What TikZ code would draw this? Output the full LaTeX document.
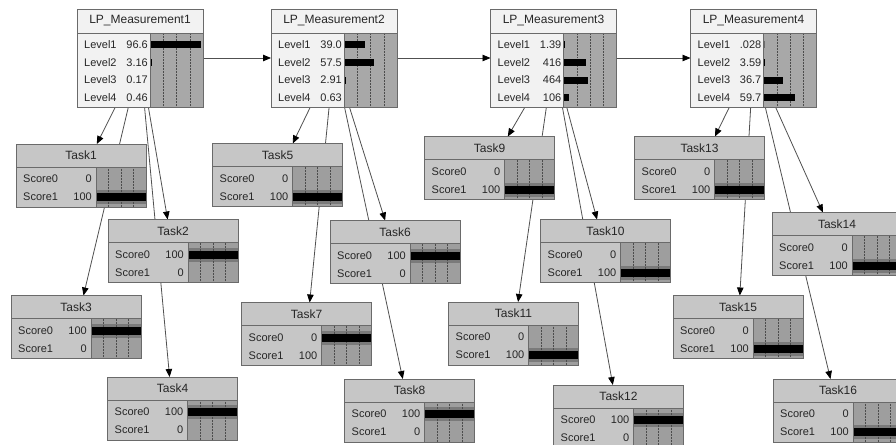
\documentclass[tikz,border=0pt]{standalone}
\usepackage{fontspec}
\setmainfont{Liberation Sans}
\usetikzlibrary{arrows.meta,backgrounds}
\definecolor{paleface}{HTML}{F2F2F2}
\definecolor{taskface}{HTML}{C6C6C6}
\definecolor{measchart}{HTML}{A8A8A8}
\definecolor{taskchart}{HTML}{9E9E9E}
\definecolor{barband}{HTML}{7A7A7A}
\definecolor{rim}{HTML}{6A6A6A}
\definecolor{wire}{HTML}{505050}

\newcommand{\measnode}[4]{%
  \node[measshape] (#1) at (#2) {};
  \begin{scope}[shift={(#1.north west)}]
    \fill[paleface] (0,0) rectangle (126,98);
    \fill[measchart] (73,24) rectangle (126,98);
    \foreach \q in {1,2,3}
      \draw[gridline] (73+13.25*\q,24) -- (73+13.25*\q,98);
    \foreach \v/\b [count=\k] in {#4} {
      \fill (73,15+17.5*\k) rectangle (73+0.53*\b,22+17.5*\k);
      \node[rowtext,anchor=west] at (7,18.5+17.5*\k) {Level\k};
      \node[rowtext,anchor=east] at (71,18.5+17.5*\k) {\v};
    }
    \draw[rim] (0,24) -- (126,24) (73,24) -- (73,98);
    \draw[rim] (0,0) rectangle (126,98);
    \node[titletext] at (63,12) {#3};
  \end{scope}}

\newcommand{\tasknode}[4]{%
  \node[taskshape] (#1) at (#2) {};
  \begin{scope}[shift={(#1.north west)}]
    \fill[taskface] (0,0) rectangle (130,63);
    \fill[taskchart] (80,23) rectangle (130,63);
    \foreach \v/\b [count=\k from 0] in {#4}
      \fill[barband] (80,28+18*\k) rectangle (80+0.5*\b,42+18*\k);
    \foreach \q in {1,2,3}
      \draw[gridline] (80+12.5*\q,23) -- (80+12.5*\q,63);
    \foreach \v/\b [count=\k from 0] in {#4} {
      \fill (80,31+18*\k) rectangle (80+0.5*\b,39+18*\k);
      \node[rowtext,anchor=west] at (7,35+18*\k) {Score\k};
      \node[rowtext,anchor=east] at (76,35+18*\k) {\v};
    }
    \draw[rim] (0,23) -- (130,23) (80,23) -- (80,63);
    \draw[rim] (0,0) rectangle (130,63);
    \node[titletext] at (65,11.5) {#3};
  \end{scope}}

\begin{document}
\begin{tikzpicture}[x=1pt, y=-1pt,
    measshape/.style={minimum width=126pt, minimum height=98pt, inner sep=0pt, outer sep=0pt},
    taskshape/.style={minimum width=130pt, minimum height=63pt, inner sep=0pt, outer sep=0pt},
    rowtext/.style={font=\fontsize{11}{13}\selectfont, inner sep=0pt, text=black!85},
    titletext/.style={font=\fontsize{12}{14}\selectfont, inner sep=0pt, text=black!85},
    gridline/.style={black!70, densely dotted, line width=0.5pt},
    link/.style={wire, line width=0.8pt, -{Triangle[length=8pt,width=6.5pt,black]}}]
\useasboundingbox (0,0) rectangle (896,444);
\measnode{m1}{140,58}{LP\_Measurement1}{96.6/96.6,3.16/3.16,0.17/0.17,0.46/0.46}
\measnode{m2}{334,58}{LP\_Measurement2}{39.0/39.0,57.5/57.5,2.91/2.91,0.63/0.63}
\measnode{m3}{553.5,58}{LP\_Measurement3}{1.39/1.39,416/41.6,464/46.4,106/10.6}
\measnode{m4}{753.5,58}{LP\_Measurement4}{.028/0.028,3.59/3.59,36.7/36.7,59.7/59.7}
\tasknode{t1}{81,175.5}{Task1}{0/0,100/100}
\tasknode{t2}{173,251}{Task2}{100/100,0/0}
\tasknode{t3}{76,327}{Task3}{100/100,0/0}
\tasknode{t4}{172.5,408.5}{Task4}{100/100,0/0}
\tasknode{t5}{277.5,175}{Task5}{0/0,100/100}
\tasknode{t6}{395,252}{Task6}{100/100,0/0}
\tasknode{t7}{306.5,334}{Task7}{0/100,100/0}
\tasknode{t8}{409.5,410.5}{Task8}{100/100,0/0}
\tasknode{t9}{489.5,168}{Task9}{0/0,100/100}
\tasknode{t10}{605.5,251}{Task10}{0/0,100/100}
\tasknode{t11}{513.5,333.5}{Task11}{0/0,100/100}
\tasknode{t12}{618.5,416.5}{Task12}{100/100,0/0}
\tasknode{t13}{699.5,168}{Task13}{0/0,100/100}
\tasknode{t14}{837,244}{Task14}{0/0,100/100}
\tasknode{t15}{738,327}{Task15}{0/0,100/100}
\tasknode{t16}{838,410.5}{Task16}{0/0,100/100}
\begin{scope}[on background layer]
\fill[white] (0,0) rectangle (896,444);
\draw[link] (m1) -- (m2);
\draw[link] (m2) -- (m3);
\draw[link] (m3) -- (m4);
\foreach \m/\t in {m1/t1,m1/t2,m1/t3,m1/t4,m2/t5,m2/t6,m2/t7,m2/t8,
                   m3/t9,m3/t10,m3/t11,m3/t12,m4/t13,m4/t14,m4/t15,m4/t16}
  \draw[link] (\m) -- (\t);
\end{scope}
\end{tikzpicture}
\end{document}
